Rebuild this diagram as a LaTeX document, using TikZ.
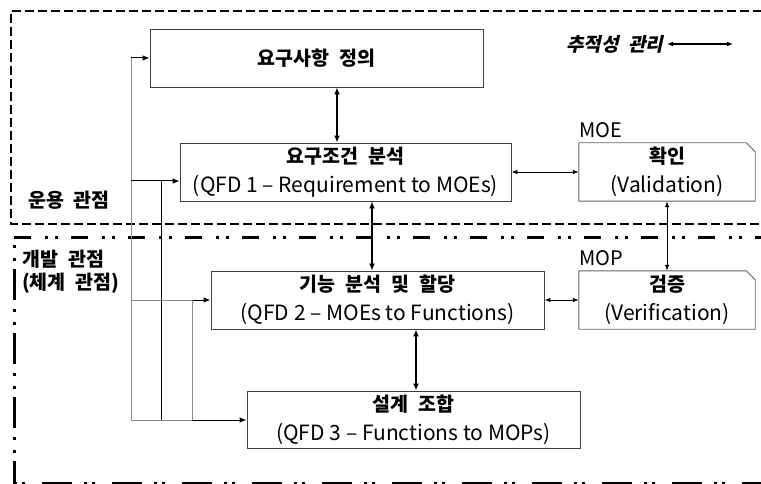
\documentclass[tikz,border=0pt]{standalone}
\usepackage{fontspec}
\setmainfont{Noto Sans CJK KR}
\newfontfamily\kofont{Noto Sans CJK KR}[WordSpace=2.2]
\newfontfamily\koslant{Noto Sans CJK KR}[WordSpace=2.2, FakeSlant=0.22, BoldFeatures={FakeSlant=0.22}]
\usetikzlibrary{arrows.meta}

\definecolor{boxline}{HTML}{404040}
\definecolor{feedgray}{HTML}{8C8C8C}

\newcommand{\kotxt}[1]{{\kofont\bfseries\fontsize{19.5}{28}\selectfont #1}}

\tikzset{
  procbox/.style={draw=boxline, line width=0.9pt, fill=white, inner sep=0pt,
    minimum width=333pt, minimum height=58pt, align=center,
    font=\fontsize{21}{28}\selectfont},
  checkbox/.style={inner sep=0pt, minimum width=176pt, minimum height=58pt,
    align=center, font=\fontsize{21}{28}\selectfont},
  ko/.style={font=\kofont\bfseries\fontsize{19.5}{28}\selectfont},
  biglink/.style={line width=2pt, {Latex[length=7pt,width=6pt]}-{Latex[length=7pt,width=6pt]}},
  thinlink/.style={line width=0.8pt, {Latex[length=6pt,width=4.5pt]}-{Latex[length=6pt,width=4.5pt]}},
  feedg/.style={line width=1pt, draw=feedgray},
  feedk/.style={line width=1pt, draw=black},
  feedin/.style={line width=1pt, draw=black, -{Latex[length=7pt,width=5.5pt]}},
  opframe/.style={line width=2.7pt, dash pattern=on 9pt off 4pt},
  devframeh/.style={line width=3pt, dash pattern=on 17pt off 14pt on 3pt off 7pt on 3pt off 13pt},
  devframev/.style={line width=3pt, dash pattern=on 31pt off 9pt on 3pt off 10pt on 3pt off 8pt, dash phase=32pt},
  devframeb/.style={line width=3pt, dash pattern=on 3pt off 5pt on 3pt off 17pt on 30pt off 12pt},
}

\begin{document}
\begin{tikzpicture}[x=1pt, y=-1pt]
\useasboundingbox (0,0) rectangle (761,484);

% viewpoint frames
\draw[opframe] (775,11) -- (11,11) -- (11,224) -- (775,224);
\draw[devframeh] (14,237) -- (775,237);
\draw[devframev] (14,237) -- (14,484);
\draw[devframeb] (14,483.5) -- (775,483.5);

% viewpoint labels
\node[ko] (opview) at (69,200) {운용 관점};
\node[ko, anchor=west, inner sep=0pt] (devview1) at (22.5,259) {개발 관점};
\node[ko, anchor=west, inner sep=0pt] (devview2) at (22,283) {(체계 관점)};

% traceability legend
\node[font=\koslant\bfseries\fontsize{19}{22}\selectfont, inner sep=0pt] (trace) at (615,44) {추적성 관리};
\coordinate (tl) at (667,44);
\coordinate (tr) at (733,44);
\draw[line width=1.5pt, {Latex[length=6pt,width=5pt]}-{Latex[length=6pt,width=5pt]}] (tl) -- (tr);

% process boxes
\node[procbox] (req) at (316.5,58) {\kotxt{요구사항 정의}};
\node[procbox, minimum width=331pt] (ana) at (345.5,172) {\kotxt{요구조건 분석}\\[1pt](QFD 1 – Requirement to MOEs)};
\node[procbox] (fun) at (377.5,300) {\kotxt{기능 분석 및 할당}\\[1pt](QFD 2 – MOEs to Functions)};
\node[procbox, minimum height=57pt] (des) at (413.5,419.5) {\kotxt{설계 조합}\\[1pt](QFD 3 – Functions to MOPs)};

% check boxes with a cut corner
\node[checkbox] (val) at (667,172) {\kotxt{확인}\\[1pt](Validation)};
\node[checkbox] (ver) at (667,300) {\kotxt{검증}\\[1pt](Verification)};
\foreach \b in {val,ver}{
  \draw[draw=boxline!80, line width=0.9pt] (\b.south west) -- (\b.north west)
    -- ([xshift=-9pt]\b.north east) -- ([yshift=-9pt]\b.north east)
    -- (\b.south east) -- cycle;
}
\node[anchor=west, inner sep=0pt, font=\fontsize{20}{24}\selectfont] (moe) at (val.north west |- 0,130) {MOE};
\node[anchor=west, inner sep=0pt, font=\fontsize{20}{24}\selectfont] (mop) at (ver.north west |- 0,258) {MOP};

% links between the stages
\coordinate (xa) at (337,0);
\coordinate (xb) at (372,0);
\coordinate (xc) at (416,0);
\draw[biglink] (req.south -| xa) -- (ana.north -| xa);
\draw[biglink] (ana.south -| xb) -- (fun.north -| xb);
\draw[biglink] (fun.south -| xc) -- (des.north -| xc);
\draw[thinlink] (ana.east) -- (val.west);
\draw[thinlink] (fun.east) -- (ver.west);
\draw[thinlink] (val.south) -- (ver.north);

% feed lines on the left
\coordinate (j1) at (131,58);
\coordinate (j2) at (131,181);
\coordinate (j3) at (131,300);
\coordinate (j4) at (131,420);
\coordinate (k2) at (161,181);
\coordinate (k4) at (161,420);
\coordinate (m3) at (192,300);
\coordinate (m4) at (192,420);
\draw[feedg] (j1) -- (j4);
\draw[feedin] (j1) -- (req.west |- j1);
\draw[feedin] (j2) -- (ana.west |- j2);
\draw[feedk] (k2) -- (k4);
\draw[feedg] (j3) -- (m3);
\draw[feedin] (m3) -- (fun.west |- m3);
\draw[feedg] (m3) -- (m4);
\draw[feedg] (j4) -- (m4);
\draw[feedin] (m4) -- (des.west |- m4);
\end{tikzpicture}
\end{document}
